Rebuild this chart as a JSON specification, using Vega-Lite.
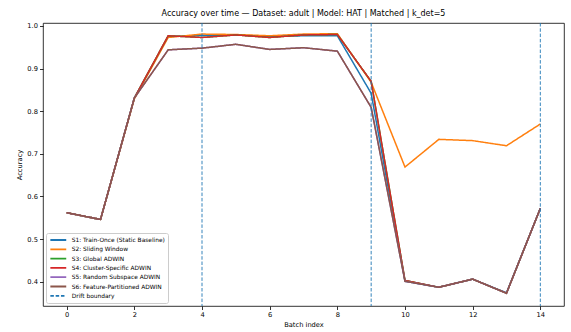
{
  "$schema": "https://vega.github.io/schema/vega-lite/v6.json",
  "width": 521,
  "height": 283,
  "autosize": "none",
  "padding": {"left": 43, "top": 23, "right": 7, "bottom": 26},
  "background": "white",
  "title": {
    "text": "Accuracy over time — Dataset: adult | Model: HAT | Matched | k_det=5",
    "font": "DejaVu Sans",
    "fontSize": 8,
    "fontWeight": "normal",
    "color": "black",
    "anchor": "middle",
    "offset": 5
  },
  "config": {
    "view": {"stroke": "#000", "strokeWidth": 0.8},
    "axis": {
      "domain": false,
      "grid": false,
      "tickColor": "#000",
      "tickSize": 3.5,
      "tickWidth": 0.8,
      "labelColor": "#000",
      "labelFont": "DejaVu Sans",
      "labelFontSize": 6.7,
      "labelPadding": 2,
      "titleFont": "DejaVu Sans",
      "titleFontSize": 6.7,
      "titleFontWeight": "normal",
      "titleColor": "#000"
    }
  },
  "datasets": {
    "acc": [
      {"batch": 0, "series": "S1: Train-Once (Static Baseline)", "accuracy": 0.562},
      {"batch": 1, "series": "S1: Train-Once (Static Baseline)", "accuracy": 0.546},
      {"batch": 2, "series": "S1: Train-Once (Static Baseline)", "accuracy": 0.831},
      {"batch": 3, "series": "S1: Train-Once (Static Baseline)", "accuracy": 0.975},
      {"batch": 4, "series": "S1: Train-Once (Static Baseline)", "accuracy": 0.978},
      {"batch": 5, "series": "S1: Train-Once (Static Baseline)", "accuracy": 0.979},
      {"batch": 6, "series": "S1: Train-Once (Static Baseline)", "accuracy": 0.975},
      {"batch": 7, "series": "S1: Train-Once (Static Baseline)", "accuracy": 0.977},
      {"batch": 8, "series": "S1: Train-Once (Static Baseline)", "accuracy": 0.977},
      {"batch": 9, "series": "S1: Train-Once (Static Baseline)", "accuracy": 0.842},
      {"batch": 10, "series": "S1: Train-Once (Static Baseline)", "accuracy": 0.401},
      {"batch": 11, "series": "S1: Train-Once (Static Baseline)", "accuracy": 0.387},
      {"batch": 12, "series": "S1: Train-Once (Static Baseline)", "accuracy": 0.406},
      {"batch": 13, "series": "S1: Train-Once (Static Baseline)", "accuracy": 0.374},
      {"batch": 14, "series": "S1: Train-Once (Static Baseline)", "accuracy": 0.572},
      {"batch": 0, "series": "S2: Sliding Window", "accuracy": 0.562},
      {"batch": 1, "series": "S2: Sliding Window", "accuracy": 0.546},
      {"batch": 2, "series": "S2: Sliding Window", "accuracy": 0.829},
      {"batch": 3, "series": "S2: Sliding Window", "accuracy": 0.973},
      {"batch": 4, "series": "S2: Sliding Window", "accuracy": 0.981},
      {"batch": 5, "series": "S2: Sliding Window", "accuracy": 0.980},
      {"batch": 6, "series": "S2: Sliding Window", "accuracy": 0.977},
      {"batch": 7, "series": "S2: Sliding Window", "accuracy": 0.981},
      {"batch": 8, "series": "S2: Sliding Window", "accuracy": 0.982},
      {"batch": 9, "series": "S2: Sliding Window", "accuracy": 0.868},
      {"batch": 10, "series": "S2: Sliding Window", "accuracy": 0.669},
      {"batch": 11, "series": "S2: Sliding Window", "accuracy": 0.734},
      {"batch": 12, "series": "S2: Sliding Window", "accuracy": 0.731},
      {"batch": 13, "series": "S2: Sliding Window", "accuracy": 0.719},
      {"batch": 14, "series": "S2: Sliding Window", "accuracy": 0.770},
      {"batch": 0, "series": "S3: Global ADWIN", "accuracy": 0.562},
      {"batch": 1, "series": "S3: Global ADWIN", "accuracy": 0.546},
      {"batch": 2, "series": "S3: Global ADWIN", "accuracy": 0.831},
      {"batch": 3, "series": "S3: Global ADWIN", "accuracy": 0.977},
      {"batch": 4, "series": "S3: Global ADWIN", "accuracy": 0.973},
      {"batch": 5, "series": "S3: Global ADWIN", "accuracy": 0.979},
      {"batch": 6, "series": "S3: Global ADWIN", "accuracy": 0.973},
      {"batch": 7, "series": "S3: Global ADWIN", "accuracy": 0.979},
      {"batch": 8, "series": "S3: Global ADWIN", "accuracy": 0.980},
      {"batch": 9, "series": "S3: Global ADWIN", "accuracy": 0.870},
      {"batch": 10, "series": "S3: Global ADWIN", "accuracy": 0.403},
      {"batch": 11, "series": "S3: Global ADWIN", "accuracy": 0.387},
      {"batch": 12, "series": "S3: Global ADWIN", "accuracy": 0.406},
      {"batch": 13, "series": "S3: Global ADWIN", "accuracy": 0.373},
      {"batch": 14, "series": "S3: Global ADWIN", "accuracy": 0.572},
      {"batch": 0, "series": "S4: Cluster-Specific ADWIN", "accuracy": 0.562},
      {"batch": 1, "series": "S4: Cluster-Specific ADWIN", "accuracy": 0.546},
      {"batch": 2, "series": "S4: Cluster-Specific ADWIN", "accuracy": 0.831},
      {"batch": 3, "series": "S4: Cluster-Specific ADWIN", "accuracy": 0.977},
      {"batch": 4, "series": "S4: Cluster-Specific ADWIN", "accuracy": 0.973},
      {"batch": 5, "series": "S4: Cluster-Specific ADWIN", "accuracy": 0.979},
      {"batch": 6, "series": "S4: Cluster-Specific ADWIN", "accuracy": 0.973},
      {"batch": 7, "series": "S4: Cluster-Specific ADWIN", "accuracy": 0.979},
      {"batch": 8, "series": "S4: Cluster-Specific ADWIN", "accuracy": 0.980},
      {"batch": 9, "series": "S4: Cluster-Specific ADWIN", "accuracy": 0.870},
      {"batch": 10, "series": "S4: Cluster-Specific ADWIN", "accuracy": 0.403},
      {"batch": 11, "series": "S4: Cluster-Specific ADWIN", "accuracy": 0.387},
      {"batch": 12, "series": "S4: Cluster-Specific ADWIN", "accuracy": 0.406},
      {"batch": 13, "series": "S4: Cluster-Specific ADWIN", "accuracy": 0.373},
      {"batch": 14, "series": "S4: Cluster-Specific ADWIN", "accuracy": 0.572},
      {"batch": 0, "series": "S5: Random Subspace ADWIN", "accuracy": 0.562},
      {"batch": 1, "series": "S5: Random Subspace ADWIN", "accuracy": 0.546},
      {"batch": 2, "series": "S5: Random Subspace ADWIN", "accuracy": 0.831},
      {"batch": 3, "series": "S5: Random Subspace ADWIN", "accuracy": 0.944},
      {"batch": 4, "series": "S5: Random Subspace ADWIN", "accuracy": 0.948},
      {"batch": 5, "series": "S5: Random Subspace ADWIN", "accuracy": 0.957},
      {"batch": 6, "series": "S5: Random Subspace ADWIN", "accuracy": 0.945},
      {"batch": 7, "series": "S5: Random Subspace ADWIN", "accuracy": 0.949},
      {"batch": 8, "series": "S5: Random Subspace ADWIN", "accuracy": 0.941},
      {"batch": 9, "series": "S5: Random Subspace ADWIN", "accuracy": 0.809},
      {"batch": 10, "series": "S5: Random Subspace ADWIN", "accuracy": 0.401},
      {"batch": 11, "series": "S5: Random Subspace ADWIN", "accuracy": 0.387},
      {"batch": 12, "series": "S5: Random Subspace ADWIN", "accuracy": 0.406},
      {"batch": 13, "series": "S5: Random Subspace ADWIN", "accuracy": 0.373},
      {"batch": 14, "series": "S5: Random Subspace ADWIN", "accuracy": 0.572},
      {"batch": 0, "series": "S6: Feature-Partitioned ADWIN", "accuracy": 0.562},
      {"batch": 1, "series": "S6: Feature-Partitioned ADWIN", "accuracy": 0.546},
      {"batch": 2, "series": "S6: Feature-Partitioned ADWIN", "accuracy": 0.831},
      {"batch": 3, "series": "S6: Feature-Partitioned ADWIN", "accuracy": 0.944},
      {"batch": 4, "series": "S6: Feature-Partitioned ADWIN", "accuracy": 0.948},
      {"batch": 5, "series": "S6: Feature-Partitioned ADWIN", "accuracy": 0.957},
      {"batch": 6, "series": "S6: Feature-Partitioned ADWIN", "accuracy": 0.945},
      {"batch": 7, "series": "S6: Feature-Partitioned ADWIN", "accuracy": 0.949},
      {"batch": 8, "series": "S6: Feature-Partitioned ADWIN", "accuracy": 0.941},
      {"batch": 9, "series": "S6: Feature-Partitioned ADWIN", "accuracy": 0.809},
      {"batch": 10, "series": "S6: Feature-Partitioned ADWIN", "accuracy": 0.401},
      {"batch": 11, "series": "S6: Feature-Partitioned ADWIN", "accuracy": 0.387},
      {"batch": 12, "series": "S6: Feature-Partitioned ADWIN", "accuracy": 0.406},
      {"batch": 13, "series": "S6: Feature-Partitioned ADWIN", "accuracy": 0.373},
      {"batch": 14, "series": "S6: Feature-Partitioned ADWIN", "accuracy": 0.572}
    ],
    "drift": [
      {"batch": 4, "series": "Drift boundary"},
      {"batch": 9, "series": "Drift boundary"},
      {"batch": 14, "series": "Drift boundary"}
    ]
  },
  "encoding": {
    "x": {
      "field": "batch",
      "type": "quantitative",
      "title": "Batch index",
      "scale": {"domain": [-0.7, 14.7], "nice": false, "zero": false},
      "axis": {"values": [0, 2, 4, 6, 8, 10, 12, 14], "titlePadding": 3}
    },
    "color": {
      "field": "series",
      "type": "nominal",
      "title": null,
      "scale": {
        "domain": ["S1: Train-Once (Static Baseline)", "S2: Sliding Window", "S3: Global ADWIN", "S4: Cluster-Specific ADWIN", "S5: Random Subspace ADWIN", "S6: Feature-Partitioned ADWIN", "Drift boundary"],
        "range": ["#1f77b4", "#ff7f0e", "#2ca02c", "#d62728", "#9467bd", "#8c564b", "#1f77b4"]
      },
      "legend": {
        "orient": "bottom-left",
        "offset": 3,
        "symbolType": "M-3,0H3",
        "symbolSize": 28,
        "symbolOffset": 5.3,
        "labelOffset": 9.4,
        "symbolStrokeWidth": 1.8,
        "labelFont": "DejaVu Sans",
        "labelFontSize": 5.9,
        "labelColor": "#000",
        "rowPadding": 1.3,
        "padding": 3,
        "fillColor": "rgba(255,255,255,0.8)",
        "strokeColor": "#cccccc",
        "cornerRadius": 2
      }
    },
    "strokeDash": {
      "field": "series",
      "type": "nominal",
      "title": null,
      "scale": {
        "domain": ["S1: Train-Once (Static Baseline)", "S2: Sliding Window", "S3: Global ADWIN", "S4: Cluster-Specific ADWIN", "S5: Random Subspace ADWIN", "S6: Feature-Partitioned ADWIN", "Drift boundary"],
        "range": [[1, 0], [1, 0], [1, 0], [1, 0], [1, 0], [1, 0], [3.5, 1.8]]
      }
    }
  },
  "layer": [
    {
      "data": {"name": "acc"},
      "mark": {"type": "line", "strokeWidth": 1.5},
      "encoding": {
        "y": {
          "field": "accuracy",
          "type": "quantitative",
          "title": "Accuracy",
          "scale": {"domain": [0.343, 1.007], "nice": false, "zero": false},
          "axis": {"values": [0.4, 0.5, 0.6, 0.7, 0.8, 0.9, 1.0], "format": ".1f", "titlePadding": 4.5}
        }
      }
    },
    {
      "data": {"name": "drift"},
      "mark": {"type": "rule", "strokeWidth": 0.9},
      "encoding": {}
    }
  ]
}
